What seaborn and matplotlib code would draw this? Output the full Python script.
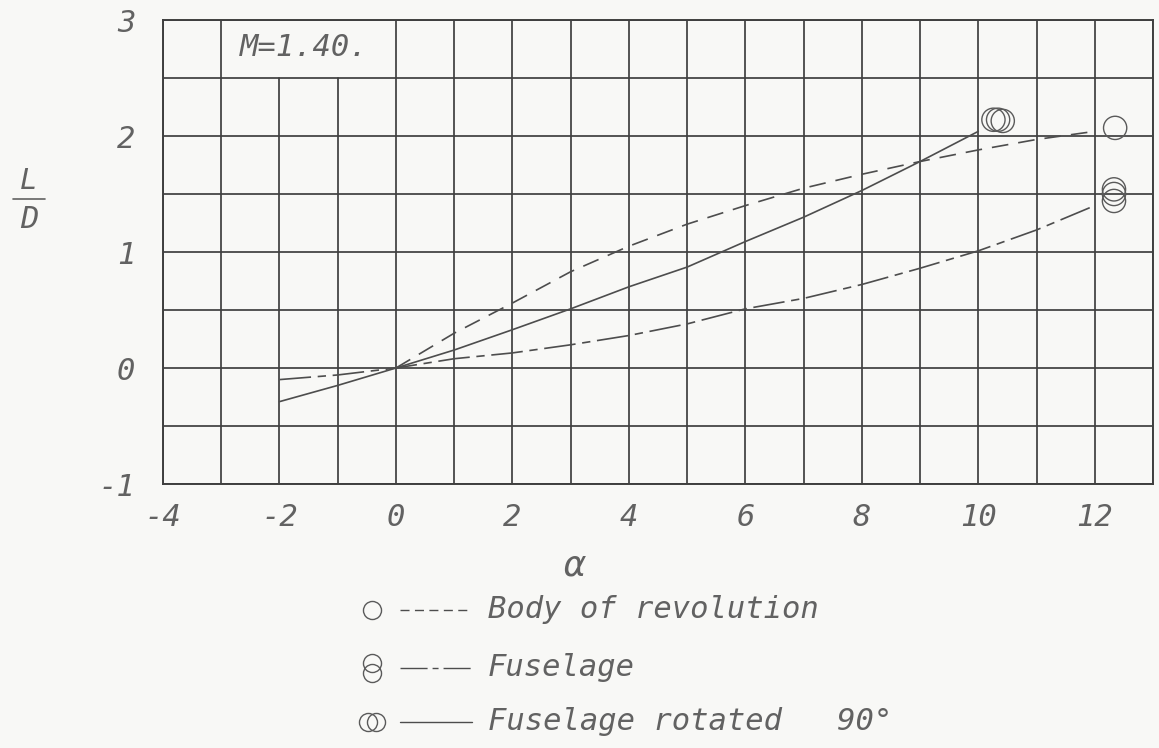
import matplotlib
matplotlib.use("Agg")
import matplotlib.pyplot as plt
import seaborn as sns
import pandas as pd
import numpy as np
from matplotlib.lines import Line2D

# ---------------- data ----------------
alpha_body = [0, 1, 2, 3, 4, 5, 6, 7, 8, 9, 10, 11, 12]
ld_body = [0.0, 0.30, 0.56, 0.83, 1.05, 1.24, 1.40, 1.55, 1.67, 1.78, 1.88, 1.97, 2.04]

alpha_fus = [-2, -1, 0, 1, 2, 3, 4, 5, 6, 7, 8, 9, 10, 11, 12]
ld_fus = [-0.10, -0.06, 0.0, 0.08, 0.13, 0.20, 0.28, 0.38, 0.51, 0.60, 0.72, 0.86, 1.01, 1.19, 1.40]

alpha_rot = [-2, -1, 0, 1, 2, 3, 4, 5, 6, 7, 8, 9, 10]
ld_rot = [-0.29, -0.15, 0.0, 0.155, 0.33, 0.51, 0.70, 0.87, 1.09, 1.30, 1.53, 1.78, 2.04]

# test points (symbols)
pts_body_alpha = [12.35]
pts_body_ld = [2.07]
pts_fus_alpha = [12.33, 12.33, 12.33]
pts_fus_ld = [1.54, 1.50, 1.44]
pts_rot_alpha = [10.26, 10.34, 10.42]
pts_rot_ld = [2.14, 2.14, 2.13]

series_names = ["Body of revolution", "Fuselage", "Fuselage rotated   90\u00b0"]
x_ticks = [-4, -2, 0, 2, 4, 6, 8, 10, 12]
y_ticks = [-1, 0, 1, 2, 3]
mach_label = "M=1.40."

# ---------------- styling ----------------
sns.set_theme(style="white")
plt.rcParams['font.family'] = ['DejaVu Sans Mono', 'DejaVu Sans']

INK = '#4d4d4d'
GRID = '#3f3f3f'
BG = '#f8f8f6'
TXT = '#626262'
W, H = 1159, 748
FONT = dict(style='oblique', color=TXT)

fig = plt.figure(figsize=(W / 100, H / 100), dpi=100, facecolor=BG)
ax = fig.add_axes([163 / W, 1 - 484 / H, (1153 - 163) / W, (484 - 20) / H])
ax.set_facecolor(BG)
ax.set_xlim(-4, 13)
ax.set_ylim(-1, 3)

# grid (lines at -2 and -1 stop below the Mach-number box)
for xv in range(-4, 14):
    top = 0.875 if xv in (-2, -1) else 1.0
    ax.axvline(xv, ymin=0, ymax=top, color=GRID, lw=1.25, zorder=1)
for yv in np.arange(-1, 3.01, 0.5):
    ax.axhline(yv, color=GRID, lw=1.25, zorder=1)
for s in ax.spines.values():
    s.set_color(GRID)
    s.set_linewidth(1.4)

ls_body_plot = (0, (10, 6))
ls_fus = (0, (19, 4, 5, 4))

df_body = pd.DataFrame({"alpha": alpha_body, "ld": ld_body})
df_fus = pd.DataFrame({"alpha": alpha_fus, "ld": ld_fus})
df_rot = pd.DataFrame({"alpha": alpha_rot, "ld": ld_rot})

sns.lineplot(data=df_body, x="alpha", y="ld", ax=ax, color=INK, lw=1.2,
             linestyle=ls_body_plot, estimator=None, sort=False, zorder=3)
sns.lineplot(data=df_fus, x="alpha", y="ld", ax=ax, color=INK, lw=1.2,
             linestyle=ls_fus, estimator=None, sort=False, zorder=3)
sns.lineplot(data=df_rot, x="alpha", y="ld", ax=ax, color=INK, lw=1.2,
             linestyle='-', estimator=None, sort=False, zorder=3)

for xa, ya in [(pts_body_alpha, pts_body_ld), (pts_fus_alpha, pts_fus_ld),
               (pts_rot_alpha, pts_rot_ld)]:
    sns.scatterplot(x=xa, y=ya, ax=ax, s=280, marker='o', color=INK,
                    edgecolor='#5a5a5a', linewidth=1.0, zorder=4)
    ax.collections[-1].set_facecolor('none')

ax.set_xticks(x_ticks)
ax.set_yticks(y_ticks)
ax.set_xticklabels([str(v) for v in x_ticks], fontsize=22, **FONT)
ax.set_yticklabels([str(v) for v in y_ticks], fontsize=22, **FONT)
ax.tick_params(axis='x', length=0, pad=14)
ax.tick_params(axis='y', length=0, pad=20)
ax.set_xlabel("")
ax.set_ylabel("")

ax.text(-2.68, 2.76, mach_label, fontsize=22, ha='left', va='center', zorder=5, **FONT)

def fx(px):
    return px / W

def fy(py):
    return 1 - py / H

# axis labels
fig.text(fx(575), fy(565), "\u03b1", fontsize=26, ha='center', va='center', **FONT)
fig.text(fx(29), fy(181), "L", fontsize=21, ha='center', va='center', **FONT)
fig.text(fx(29), fy(220), "D", fontsize=22, ha='center', va='center', **FONT)
fig.add_artist(Line2D([fx(13), fx(45)], [fy(199), fy(199)], transform=fig.transFigure,
                      color=TXT, lw=1.2))

# legend (drawn below the chart)
rows = [610, 668, 722]
leg_styles = [(0, (6.5, 3.9)), (0, (19.5, 3.6, 4.3, 3.6)), '-']
offsets = [[(0, 0)], [(0, -5), (0, 5)], [(-4, 0), (4, 0)]]
for name, yy, ls, offs in zip(series_names, rows, leg_styles, offsets):
    for dx, dy in offs:
        fig.add_artist(Line2D([fx(372 + dx)], [fy(yy + dy)], transform=fig.transFigure,
                              marker='o', ms=13, mfc='none', mec='#5a5a5a', mew=1.0, ls='none'))
    fig.add_artist(Line2D([fx(400), fx(472)], [fy(yy), fy(yy)], transform=fig.transFigure,
                          color=INK, lw=1.0, ls=ls))
    fig.text(fx(488), fy(yy), name, fontsize=22, ha='left', va='center', **FONT)

fig.savefig("out.png", dpi=100, facecolor=BG)
